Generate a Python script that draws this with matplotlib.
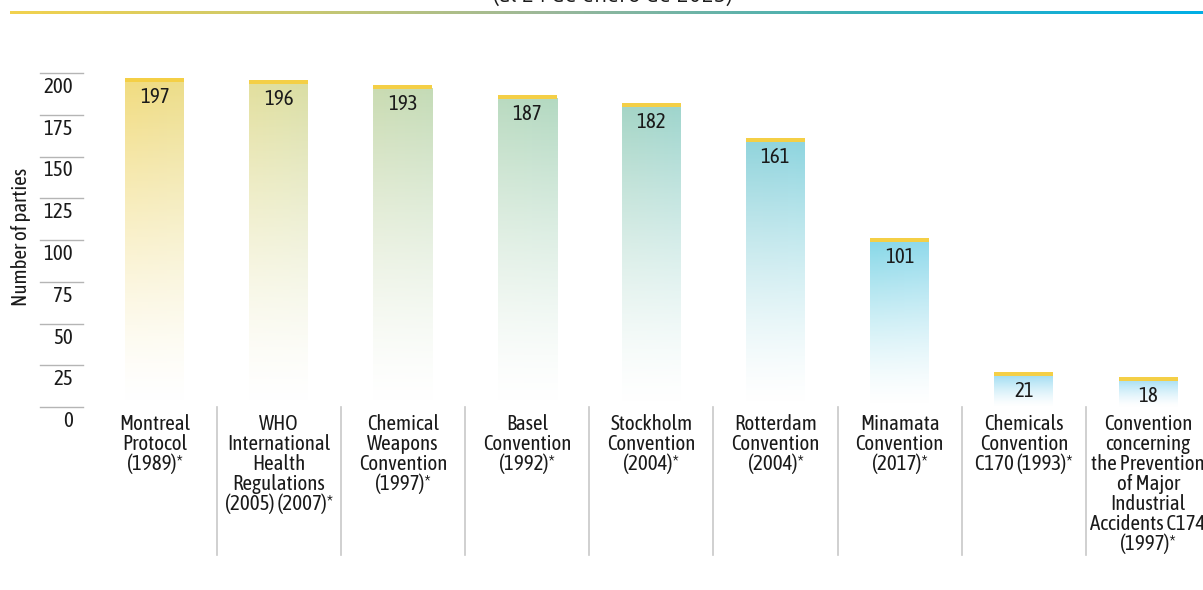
import numpy as np
import matplotlib
matplotlib.use("Agg")
import matplotlib.pyplot as plt
from matplotlib.colors import to_rgb, LinearSegmentedColormap

# ---- data ----
categories = [
    "Montreal\nProtocol\n(1989)*",
    "WHO\nInternational\nHealth\nRegulations\n(2005) (2007)*",
    "Chemical\nWeapons\nConvention\n(1997)*",
    "Basel\nConvention\n(1992)*",
    "Stockholm\nConvention\n(2004)*",
    "Rotterdam\nConvention\n(2004)*",
    "Minamata\nConvention\n(2017)*",
    "Chemicals\nConvention\nC170 (1993)*",
    "Convention\nconcerning\nthe Prevention\nof Major\nIndustrial\nAccidents C174\n(1997)*",
]
parties = [197, 196, 193, 187, 182, 161, 101, 21, 18]
y_ticks = [0, 25, 50, 75, 100, 125, 150, 175, 200]
y_label = "Number of parties"
subtitle = "(al 24 de enero de 2023)"

# ---- style ----
bar_colors = ["#f2dc80", "#e3e09e", "#cadcb2", "#badbc0", "#a6d6c6",
              "#92d4dc", "#88d8e8", "#a0ddf2", "#a8e0f4"]
cap_color = "#f4cf46"
FONT = ["Ubuntu Condensed", "Asap Condensed", "DejaVu Sans"]
plt.rcParams["font.family"] = FONT

W, H = 1203, 590
fig = plt.figure(figsize=(W / 100, H / 100), dpi=100)

# pixel geometry
x0_px, step_px = 154.5, 124.2
zero_px, ppu = 407.0, 1.67      # y pixel of 0, pixels per unit
ax_left_px, ax_top_px = 40, 60
xl = (ax_left_px - x0_px) / step_px
xr = (W - x0_px) / step_px
ytop = (zero_px - ax_top_px) / ppu
ax = fig.add_axes([ax_left_px / W, (H - zero_px) / H, (W - ax_left_px) / W, (zero_px - ax_top_px) / H])
ax.set_xlim(xl, xr)
ax.set_ylim(0, ytop)
for s in ax.spines.values():
    s.set_visible(False)
ax.set_yticks([])

bw = 59 / step_px
cap_h = 4 / ppu
for i, (v, c) in enumerate(zip(parties, bar_colors)):
    c0 = np.array(to_rgb(c))
    c1 = np.array(to_rgb(bar_colors[min(i + 1, len(bar_colors) - 1)]))
    nh, nw = 200, 40
    t = np.linspace(0, 1, nh)[:, None]          # 0 bottom -> 1 top
    u = np.linspace(0, 1, nw)[None, :]
    col = c0[None, None, :] * (1 - 0.35 * u[..., None]) + c1[None, None, :] * (0.35 * u[..., None])
    alpha = np.clip(t ** 1.4, 0, 1)[..., None] * np.ones((1, nw, 1))
    img = np.concatenate([np.broadcast_to(col, (nh, nw, 3)), alpha], axis=2)
    ax.imshow(img, extent=[i - bw / 2, i + bw / 2, 0, v - cap_h], origin="lower",
              aspect="auto", interpolation="bilinear", zorder=2)
    ax.bar(i, cap_h, bottom=v - cap_h, width=bw, color=cap_color, zorder=3, linewidth=0)
    ax.text(i, v - 19 / ppu, str(v), ha="center", va="center", fontsize=15,
            color="#1a1a1a", zorder=4)

# y "ticks": short lines with labels underneath
for t_ in y_ticks:
    ax.plot([xl, (83 - x0_px) / step_px], [t_, t_], color="#b5b5b5", lw=1.0,
            clip_on=False, zorder=1)
    ax.text((73 - x0_px) / step_px, t_ - 14 / ppu, str(t_), ha="right", va="center",
            fontsize=15, color="#1a1a1a", clip_on=False)

fig.text(21 / W, 1 - 237 / H, y_label, rotation=90, ha="center", va="center",
         fontsize=15, color="#1a1a1a")

# category labels
ax.set_xticks(range(len(categories)))
ax.set_xticklabels(categories, fontsize=15, color="#1a1a1a", linespacing=1.0)
ax.tick_params(axis="x", length=0, pad=5)

# separators
for i in range(len(categories) - 1):
    ax.plot([i + 0.5, i + 0.5], [0, -(555 - zero_px) / ppu], color="#c8c8c8", lw=1.2,
            clip_on=False)

# top gradient rule
rule = fig.add_axes([10 / W, 1 - 14 / H, (W - 10) / W, 3 / H])
cmap = LinearSegmentedColormap.from_list(
    "rule", [(0, "#f2d24e"), (0.25, "#c8c870"), (0.45, "#9cb89a"),
             (0.7, "#3fb0b4"), (1.0, "#00aee6")])
rule.imshow(np.linspace(0, 1, 512)[None, :], aspect="auto", cmap=cmap,
            extent=[0, 1, 0, 1])
rule.set_axis_off()

fig.text(613 / W, 1 - 2 / H, subtitle, ha="center", va="baseline", fontsize=16,
         color="#1a1a1a", family=["Ubuntu", "Open Sans", "DejaVu Sans"])

fig.savefig("out.png", dpi=100)
